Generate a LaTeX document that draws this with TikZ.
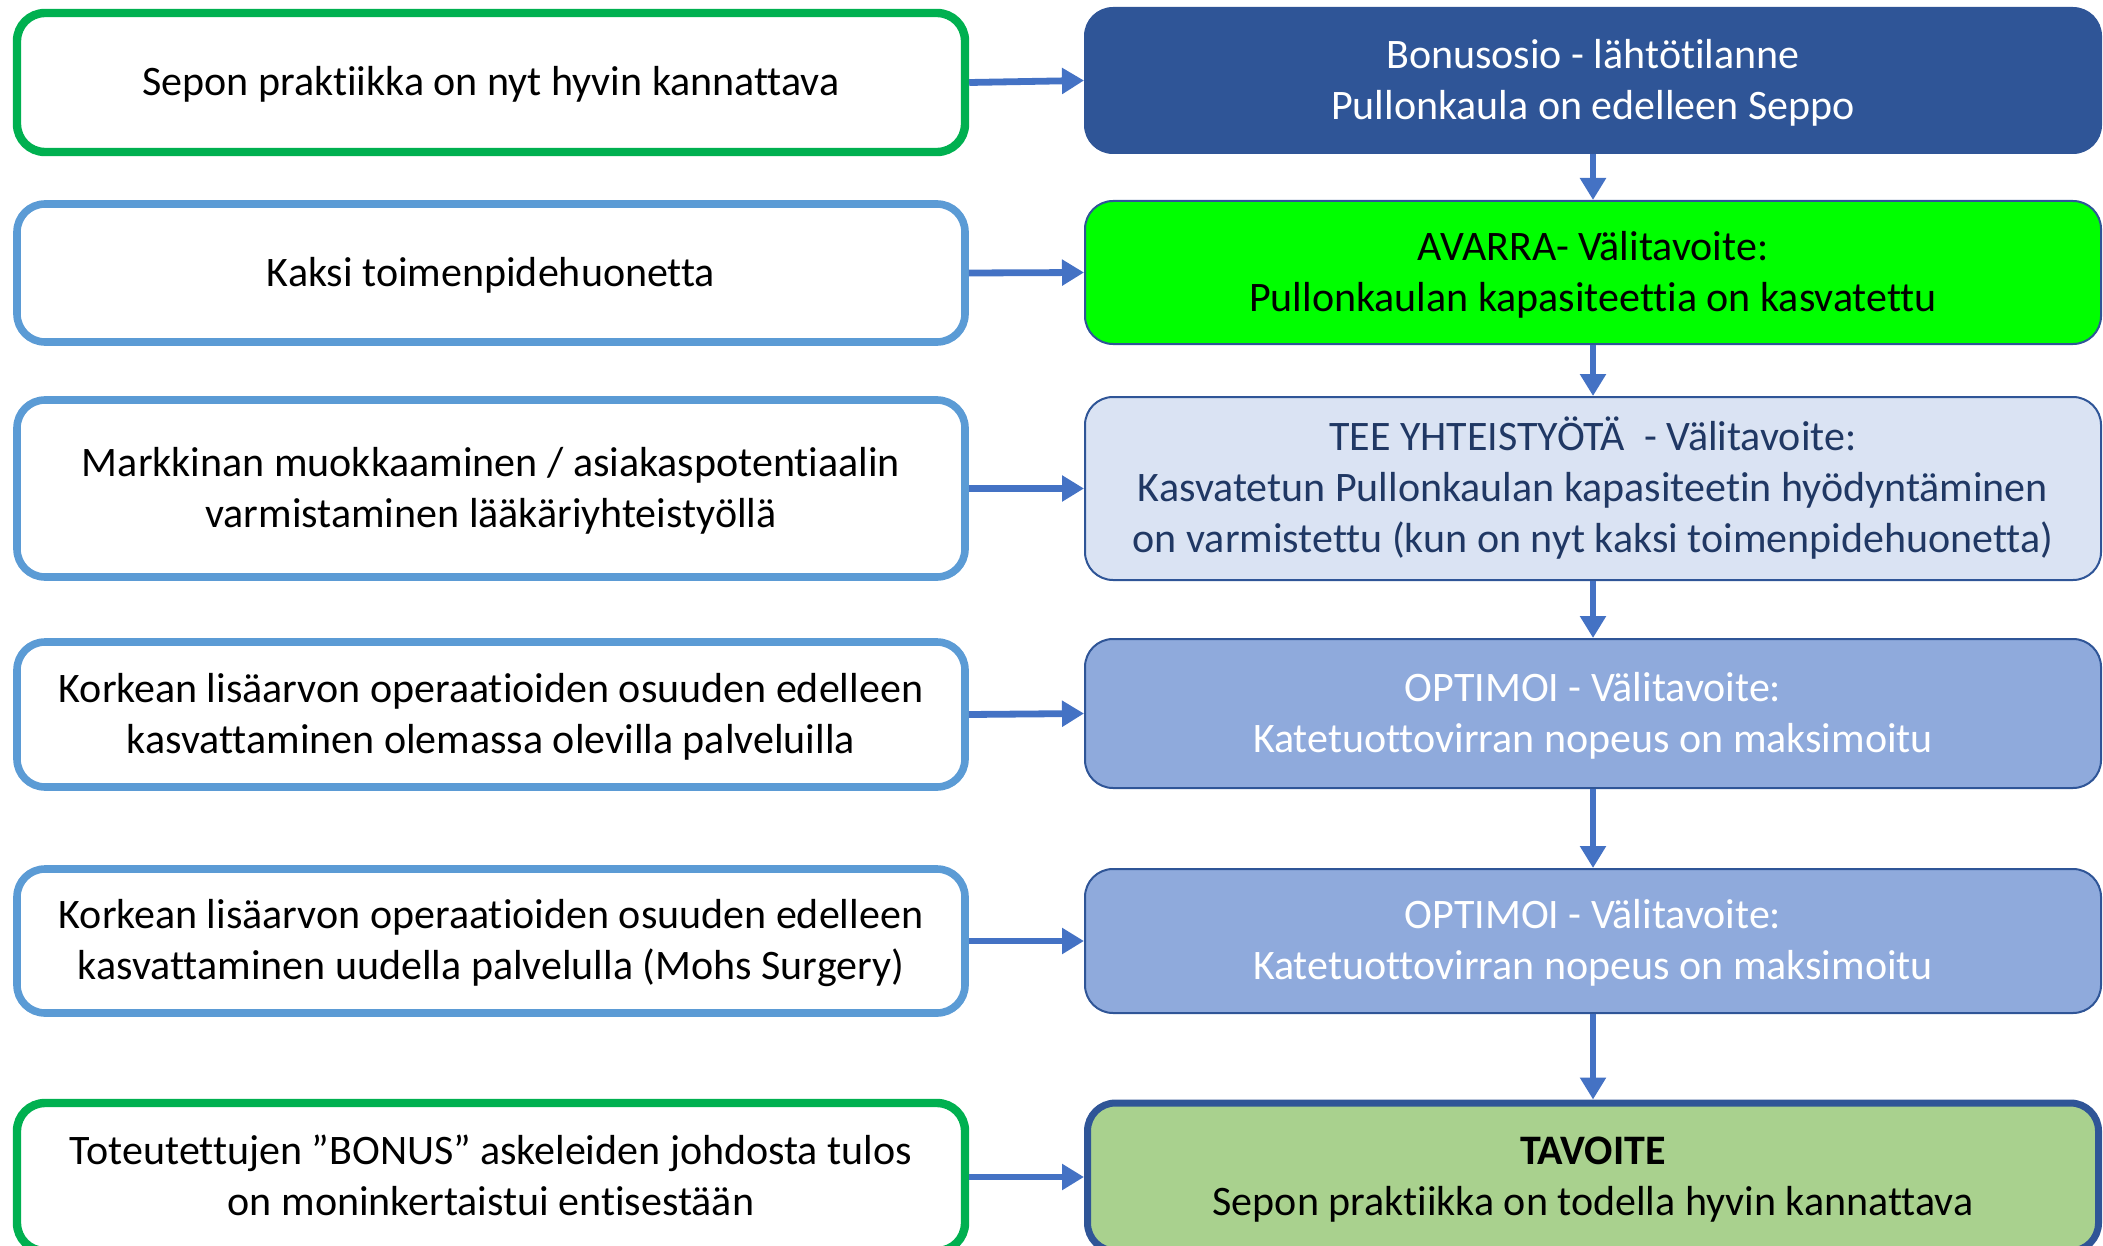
\documentclass[tikz,border=0pt]{standalone}
\usepackage{fontspec}
\setmainfont{Carlito}[Ligatures={NoCommon,NoRequired,NoContextual,NoRare},Contextuals=NoAlternate]
\usetikzlibrary{arrows.meta}
\definecolor{grn}{HTML}{00B050}
\definecolor{lblue}{HTML}{5B9BD5}
\definecolor{dblue}{HTML}{2F5597}
\definecolor{brightgreen}{HTML}{00FF00}
\definecolor{paleblue}{HTML}{DAE3F3}
\definecolor{midblue}{HTML}{8FAADC}
\definecolor{goalgreen}{HTML}{A9D18E}
\definecolor{arrowblue}{HTML}{4472C4}
\definecolor{navytext}{HTML}{203864}
\newcommand\topstrut{\rule{0pt}{18.2pt}}
\newcommand\botstrut{\rule[-5pt]{0pt}{5pt}}
\begin{document}
\begin{tikzpicture}[x=0.5pt,y=-0.5pt,
 base/.style={rectangle, rounded corners=14pt, align=center, inner sep=0pt,
   font=\fontsize{21pt}{25.5pt}\selectfont},
 lbox/.style={base, draw=lblue, line width=3.8pt, fill=white, minimum width=474pt},
 lgbox/.style={lbox, draw=grn, line width=4.2pt},
 rbox/.style={base, draw=dblue, line width=1pt, minimum width=508pt},
 conn/.style={draw=arrowblue, line width=3.4pt, -{Triangle[length=11pt,width=12.5pt]}}
]
\useasboundingbox (0,0) rectangle (2103,1246);

% left column
\node[lgbox, minimum height=69.5pt] (L1) at (491,82.5) {\topstrut Sepon praktiikka on nyt hyvin kannattava\botstrut};
\node[lbox, minimum height=69pt] (L2) at (491,273) {\topstrut Kaksi toimenpidehuonetta\botstrut};
\node[lbox, minimum height=88.5pt] (L3) at (491,488.5) {\topstrut Markkinan muokkaaminen / asiakaspotentiaalin\\varmistaminen lääkäriyhteistyöllä\botstrut};
\node[lbox, minimum height=72.5pt] (L4) at (491,714.5) {\topstrut Korkean lisäarvon operaatioiden osuuden edelleen\\kasvattaminen olemassa olevilla palveluilla\botstrut};
\node[lbox, minimum height=72pt] (L5) at (491,941) {\topstrut Korkean lisäarvon operaatioiden osuuden edelleen\\kasvattaminen uudella palvelulla (Mohs Surgery)\botstrut};
\node[lgbox, minimum height=74pt] (L6) at (491,1177) {\topstrut Toteutettujen ”BONUS” askeleiden johdosta tulos\\on moninkertaistui entisestään\botstrut};

% right column
\node[rbox, fill=dblue, text=white, minimum height=72.5pt] (R1) at (1593,80.5) {\topstrut Bonusosio - lähtötilanne\\Pullonkaula on edelleen Seppo\botstrut};
\node[rbox, fill=brightgreen, text=black, minimum height=71.5pt] (R2) at (1593,272.5) {\topstrut AVARRA- Välitavoite:\\Pullonkaulan kapasiteettia on kasvatettu\botstrut};
\node[rbox, fill=paleblue, text=navytext, minimum height=91.5pt] (R3) at (1593,488.5) {\topstrut TEE YHTEISTYÖTÄ~ - Välitavoite:\\Kasvatetun Pullonkaulan kapasiteetin hyödyntäminen\\on varmistettu (kun on nyt kaksi toimenpidehuonetta)\botstrut};
\node[rbox, fill=midblue, text=white, minimum height=74.5pt] (R4) at (1593,713.5) {\topstrut OPTIMOI - Välitavoite:\\Katetuottovirran nopeus on maksimoitu\botstrut};
\node[rbox, fill=midblue, text=white, minimum height=72pt] (R5) at (1593,941) {\topstrut OPTIMOI - Välitavoite:\\Katetuottovirran nopeus on maksimoitu\botstrut};
\node[rbox, fill=goalgreen, text=black, line width=3.5pt, minimum width=505.5pt, minimum height=74pt] (R6) at (1593,1177) {\topstrut\textbf{TAVOITE}\\Sepon praktiikka on todella hyvin kannattava\botstrut};

% connectors
\foreach \i in {1,...,6} {\draw[conn] (L\i.east) -- (R\i.west);}
\draw[conn] (R1.south) -- (R2.north);
\draw[conn] (R2.south) -- (R3.north);
\draw[conn] (R3.south) -- (R4.north);
\draw[conn] (R4.south) -- (R5.north);
\draw[conn] (R5.south) -- (R6.north);
\end{tikzpicture}
\end{document}
